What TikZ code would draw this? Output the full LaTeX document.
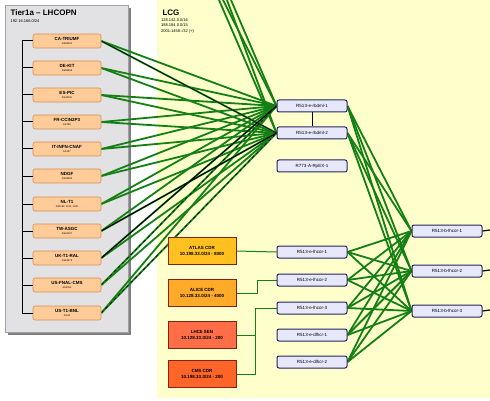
\documentclass[tikz,border=0pt]{standalone}
\usepackage{fontspec}
\setmainfont{Liberation Sans}
\begin{document}
\pgfdeclarelayer{bg}
\pgfdeclarelayer{edges}
\pgfsetlayers{bg,edges,main}
\definecolor{peach}{RGB}{255,204,153}
\definecolor{peachb}{RGB}{215,140,80}
\definecolor{lav}{RGB}{232,232,252}
\definecolor{navyb}{RGB}{35,35,95}
\definecolor{ylw}{RGB}{255,255,204}
\definecolor{panel}{RGB}{226,226,228}
\definecolor{panelb}{RGB}{160,160,165}
\definecolor{gline}{RGB}{20,128,20}
\definecolor{cdra}{RGB}{255,192,32}
\definecolor{cdrb}{RGB}{255,170,40}
\definecolor{cdrc}{RGB}{255,110,70}
\definecolor{cdrd}{RGB}{255,100,40}
\definecolor{cdrbord}{RGB}{130,35,20}
\begin{tikzpicture}[x=1pt,y=-1pt,
  tbox/.style={rounded corners=2pt,fill=peach,draw=peachb,line width=0.6pt,minimum width=68pt,minimum height=14pt,inner sep=0pt,align=center,font=\fontsize{4.5}{4.8}\selectfont},
  rbox/.style={rounded corners=2pt,fill=lav,draw=navyb,line width=1pt,minimum width=70pt,minimum height=12pt,inner sep=0pt,font=\fontsize{4.5}{5}\selectfont},
  cdr/.style={draw=cdrbord,line width=1pt,minimum width=68pt,minimum height=27pt,inner sep=0pt,align=center,font=\bfseries\fontsize{4.5}{5.5}\selectfont},
  ge/.style={draw=gline,line width=1.8pt},
  be/.style={draw=black,line width=1pt},
  se/.style={draw=black,line width=0.6pt}]
\useasboundingbox (0,0) rectangle (490,401);
\begin{pgfonlayer}{bg}
\fill[white] (0,0) rectangle (490,401);
\fill[ylw] (157,0) rectangle (490,398);
\fill[panelb!80!black] (8,8) rectangle (131,335);
\filldraw[fill=panel,draw=panelb,line width=0.6pt] (5,5) rectangle (128,332);
\end{pgfonlayer}
\node[anchor=west,font=\bfseries\fontsize{8}{9}\selectfont] (t1title) at (7,13) {Tier1a -- LHCOPN};
\node[anchor=west,font=\fontsize{4}{5}\selectfont] (t1sub) at (7,21) {192.16.166.0/24};
\node[anchor=west,font=\bfseries\fontsize{8}{9}\selectfont] (lcgtitle) at (159,13) {LCG};
\node[anchor=north west,align=left,inner sep=0pt,font=\fontsize{4}{5.5}\selectfont] (lcgsub) at (161,18) {128.142.0.0/16\\188.184.0.0/15\\2001:1458::/32 (+)};
% left boxes
\node[tbox] (ca) at (67,41) {\textbf{CA-TRIUMF}\\[-1pt]{\fontsize{2.5}{3}\selectfont AS36391}};
\node[tbox] (de) at (67,68) {\textbf{DE-KIT}\\[-1pt]{\fontsize{2.5}{3}\selectfont AS58069}};
\node[tbox] (es) at (67,95) {\textbf{ES-PIC}\\[-1pt]{\fontsize{2.5}{3}\selectfont AS43115}};
\node[tbox] (fr) at (67,122) {\textbf{FR-CCIN2P3}\\[-1pt]{\fontsize{2.5}{3}\selectfont AS789}};
\node[tbox] (it) at (67,149) {\textbf{IT-INFN-CNAF}\\[-1pt]{\fontsize{2.5}{3}\selectfont AS137}};
\node[tbox] (nd) at (67,176) {\textbf{NDGF}\\[-1pt]{\fontsize{2.5}{3}\selectfont AS39590}};
\node[tbox] (nl) at (67,204) {\textbf{NL-T1}\\[-1pt]{\fontsize{2.5}{3}\selectfont AS1162, 1104, 1126}};
\node[tbox] (tw) at (67,231) {\textbf{TW-ASGC}\\[-1pt]{\fontsize{2.5}{3}\selectfont AS24167}};
\node[tbox] (uk) at (67,258) {\textbf{UK-T1-RAL}\\[-1pt]{\fontsize{2.5}{3}\selectfont AS43475}};
\node[tbox] (fn) at (67,285) {\textbf{US-FNAL-CMS}\\[-1pt]{\fontsize{2.5}{3}\selectfont AS3152}};
\node[tbox] (bn) at (67,313) {\textbf{US-T1-BNL}\\[-1pt]{\fontsize{2.5}{3}\selectfont AS43}};
\coordinate (spt) at (22,41);
\coordinate (spb) at (22,313);
\draw[line width=1pt] (spt) -- (spb);
\foreach \n in {ca,de,es,fr,it,nd,nl,tw,uk,fn,bn}{\draw[line width=1pt] (22,0 |- \n.west) -- (\n.west);}
% middle routers
\node[rbox] (ra) at (312,106) {R513-e-rbdml-1};
\node[rbox] (rb) at (312,133) {R513-e-rbdml-2};
\node[rbox] (rc) at (312,166) {R773-A-RpEX-1};
\node[rbox] (v1) at (312,252) {R513-e-lhcor-1};
\node[rbox] (v2) at (312,280) {R513-e-lhcor-2};
\node[rbox] (v3) at (312,308) {R513-e-lhcor-3};
\node[rbox] (v4) at (312,335) {R513-e-dlhcr-1};
\node[rbox] (v5) at (312,362) {R513-e-dlhcr-2};
\draw[line width=0.8pt] (ra) -- (rb);
% right routers
\node[rbox] (x1) at (447,231) {R513-b-lhcor-1};
\node[rbox] (x2) at (447,271) {R513-b-lhcor-2};
\node[rbox] (x3) at (447,311) {R513-b-lhcor-3};
\coordinate (o1) at (490,230);
\coordinate (o2) at (490,270);
\coordinate (o3) at (490,310);
\foreach \a/\b in {x1/o1,x2/o2,x3/o3}{\draw[line width=1.2pt] (\a.east) -- (\b);}
% CDR boxes
\node[cdr,fill=cdra] (atl) at (202,251) {ATLAS CDR\\10.198.33.0/24 - 8000};
\node[cdr,fill=cdrb] (ali) at (202,293) {ALICE CDR\\10.128.33.0/24 - 4000};
\node[cdr,fill=cdrc] (lhb) at (202,335) {LHCb SEN\\10.128.33.0/24 - 200};
\node[cdr,fill=cdrd] (cms) at (202,374) {CMS CDR\\10.198.33.0/24 - 200};
\begin{pgfonlayer}{edges}
\draw[draw=gline,line width=1pt] (atl.east) -- (v1.west);
\draw[draw=gline,line width=1pt] (ali.east) -- (257,293) |- (v2.west);
\draw[draw=gline,line width=1pt] (lhb.east) -- (255,335) |- (v3.west);
\draw[draw=gline,line width=1pt] (cms.east) -- (255,374) -- (255,335);
% top lines
\coordinate (tp1) at (219,0);
\coordinate (tp2) at (223,0);
\coordinate (tp3) at (227,0);
\coordinate (tp4) at (231,0);
\draw[ge] (tp1) -- (rb.west);
\draw[ge] (tp2) -- (ra.west);
\draw[ge] (tp3) -- (rb.west);
\draw[ge] (tp4) -- (ra.west);
% left to routers
\foreach \n in {ca,de,es,fr,it,nd,nl,tw,uk,fn,bn}{
  \draw[ge] (\n.east) -- (ra.west);
  \draw[ge] (\n.east) -- (rb.west);}
\draw[se] (ca.east) -- (rb.west);
\draw[be] (tw.east) -- (rb.west);
\draw[be] (uk.east) -- (ra.west);
\draw[se,dashed] (fn.east) -- (ra.west);
\draw[se,dashed] (bn.east) -- (rb.west);
% routers to right routers
\foreach \s in {ra,rb,v1,v2,v3,v4,v5}{
  \foreach \t in {x1,x2,x3}{\draw[ge] (\s.east) -- (\t.west);}}
\end{pgfonlayer}
\end{tikzpicture}
\end{document}
